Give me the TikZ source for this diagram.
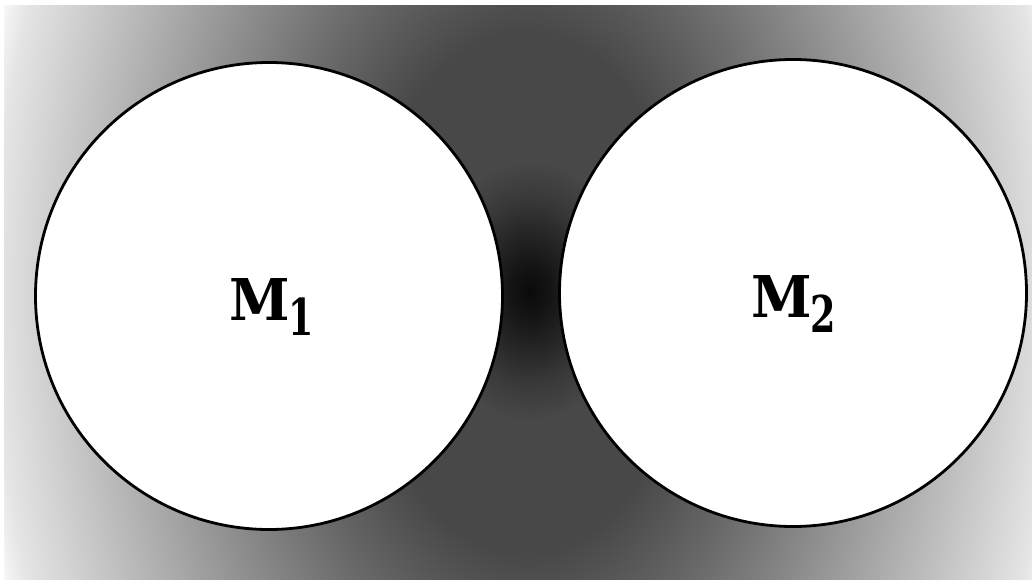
\documentclass[tikz,border=0pt]{standalone}
\usepackage{fontspec}
\newfontfamily\labfont{DejaVu Serif}
\definecolor{bgA}{gray}{0.282}
\definecolor{bgB}{gray}{0.40}
\definecolor{bgC}{gray}{0.898}
\definecolor{spA}{gray}{0.04}
\definecolor{spB}{gray}{0.08}
\definecolor{spC}{gray}{0.16}
\definecolor{spD}{gray}{0.22}
\pgfdeclareradialshading{bgshade}{\pgfpoint{0bp}{0bp}}{color(0bp)=(bgA); color(14.5bp)=(bgA); color(21bp)=(bgB); color(47.3bp)=(bgC); color(50bp)=(white)}
\pgfdeclareradialshading{spotshade}{\pgfpoint{0bp}{0bp}}{color(0bp)=(spA); color(10bp)=(spB); color(25bp)=(spC); color(35bp)=(spD); color(50bp)=(bgA)}
\tikzset{
  mass/.style={circle, draw=black, line width=2.8pt, fill=white, minimum size=467pt, inner sep=0pt},
  lab/.style={anchor=base west, inner sep=0pt, font=\labfont\bfseries\fontsize{57.6}{60}\selectfont}
}
\newcommand\masslabel[1]{\scalebox{0.95}[1]{M}\kern-1pt\raisebox{-15pt}{\fontsize{50.7}{55}\selectfont\scalebox{0.72}[1]{#1}}}
\newcommand\putshading[5]{% name, cx, cy, xscale, yscale
  \begin{pgfscope}
    \pgftransformshift{\pgfpointxy{#2}{#3}}
    \pgftransformxscale{#4}
    \pgftransformyscale{#5}
    \pgflowlevelsynccm
    \pgfuseshading{#1}
  \end{pgfscope}}
\begin{document}
\begin{tikzpicture}[x=1pt,y=-1pt]
\useasboundingbox (0,0) rectangle (1032,580);
\fill[white] (0,0) rectangle (1032,580);
\begin{scope}
\clip (4,6) rectangle (1032,580);
\putshading{bgshade}{525}{293}{11.157}{17.89}
\putshading{spotshade}{530}{291}{1.992}{2.59}
\end{scope}
\node[mass] (c1) at (269,296) {};
\node[mass] (c2) at (793,293) {};
\node[lab] (m1) at (229,320) {\masslabel{1}};
\node[lab] (m2) at (751,317) {\masslabel{2}};
\end{tikzpicture}
\end{document}
